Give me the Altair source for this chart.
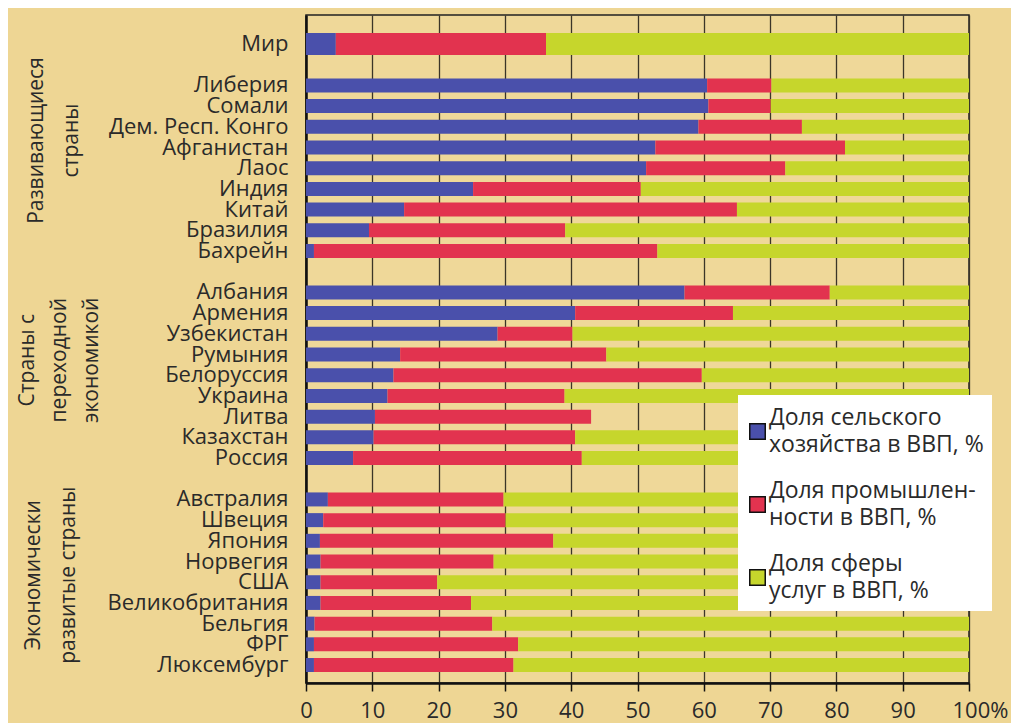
import altair as alt
import pandas as pd

# ---------------- data ----------------
world = ["Мир"]
developing = ["Либерия", "Сомали", "Дем. Респ. Конго", "Афганистан", "Лаос",
              "Индия", "Китай", "Бразилия", "Бахрейн"]
transition = ["Албания", "Армения", "Узбекистан", "Румыния", "Белоруссия",
              "Украина", "Литва", "Казахстан", "Россия"]
developed = ["Австралия", "Швеция", "Япония", "Норвегия", "США",
             "Великобритания", "Бельгия", "ФРГ", "Люксембург"]

countries = world + developing + transition + developed

agri = [4.5,
        60.5, 60.7, 59.2, 52.7, 51.3, 25.2, 14.8, 9.5, 1.2,
        57.1, 40.6, 28.9, 14.2, 13.2, 12.3, 10.4, 10.2, 7.1,
        3.3, 2.6, 2.1, 2.2, 2.2, 2.2, 1.3, 1.2, 1.2]
industry = [31.7,
            9.7, 9.4, 15.6, 28.6, 21.0, 25.3, 50.2, 29.6, 51.8,
            21.9, 23.8, 11.3, 31.1, 46.5, 26.7, 32.6, 30.4, 34.5,
            26.5, 27.5, 35.2, 26.1, 17.6, 22.7, 26.8, 30.8, 30.1]
services = [63.8,
            29.8, 29.9, 25.2, 18.7, 27.7, 49.5, 35.0, 60.9, 47.0,
            21.0, 35.6, 59.8, 54.7, 40.3, 61.0, None, 59.4, 58.4,
            70.2, 69.9, 62.7, 71.7, 80.2, 75.1, 71.9, 68.0, 68.7]

sectors = ["Доля сельского|хозяйства в ВВП, %",
           "Доля промышлен-|ности в ВВП, %",
           "Доля сферы|услуг в ВВП, %"]
colors = ["#4a50ab", "#e2334f", "#c6d62c"]

group_titles = ["Развивающиеся\nстраны",
                "Страны с\nпереходной\nэкономикой",
                "Экономически\nразвитые страны"]

x_ticks = [0, 10, 20, 30, 40, 50, 60, 70, 80, 90, 100]

# row order on the y axis, with blank spacer rows between groups
rows = world + [" "] + developing + ["  "] + transition + ["   "] + developed

# ---------------- long table ----------------
recs = []
for i, c in enumerate(countries):
    for k, series in enumerate([agri, industry, services]):
        v = series[i]
        if v is None:
            continue
        recs.append({"country": c, "sector": sectors[k], "ord": k, "value": v})
df = pd.DataFrame(recs)

FONT = "Open Sans"
TXT = "#2a2a2a"

y_enc = alt.Y(
    "country:N",
    scale=alt.Scale(domain=rows, paddingInner=0.3, paddingOuter=0.785, align=0.67),
    axis=alt.Axis(title=None, ticks=False, grid=False, domainColor="#111",
                  domainWidth=2.5, labelPadding=18, labelFontSize=22,
                  labelColor=TXT, labelFont=FONT, labelLimit=400),
)

bars = alt.Chart(df).mark_bar().encode(
    y=y_enc,
    x=alt.X("value:Q", stack="zero",
            scale=alt.Scale(domain=[0, 100], nice=False),
            axis=alt.Axis(title=None, values=x_ticks, grid=True,
                          gridColor="#3b3528", gridWidth=1.3,
                          domainColor="#111", domainWidth=2.5,
                          tickColor="#111", tickSize=8, tickWidth=1.5,
                          labelFontSize=22, labelColor=TXT, labelFont=FONT,
                          labelPadding=9, labelFlush=False,
                          labelExpr="datum.value == 100 ? '100%' : datum.label",
                          labelOffset={"condition": {"test": "datum.value == 100", "value": 11}, "value": 0})),
    color=alt.Color("sector:N",
                    scale=alt.Scale(domain=sectors, range=colors),
                    legend=alt.Legend(orient="none", legendX=432, legendY=380,
                                      title=" ", titleFontSize=1, titlePadding=16,
                                      fillColor="white", padding=8,
                                      symbolType="square", symbolSize=240,
                                      symbolStrokeColor="#111", symbolStrokeWidth=1.5,
                                      labelFontSize=23, labelFont=FONT, labelColor=TXT,
                                      labelLimit=400, rowPadding=22, labelOffset=0,
                                      labelBaseline="line-bottom",
                                      labelExpr="split(datum.label, '|')")),
    order=alt.Order("ord:Q"),
    size=alt.condition(alt.datum.country == "Мир", alt.value(22), alt.value(14)),
)

anchors = ["Афганистан", "Белоруссия", "США"]
xpos = [-269, -278, -272]
dxs = [7, 15, 7]
lhs = [35, 32, 35]
layers = [bars]
for t, a, xp, dx, lh in zip(group_titles, anchors, xpos, dxs, lhs):
    layers.append(
        alt.Chart(pd.DataFrame({"t": [t], "country": [a]}))
        .mark_text(angle=270, align="center", baseline="middle", lineBreak="\n",
                   fontSize=21, font=FONT, color=TXT, lineHeight=lh, dx=dx)
        .encode(y=y_enc, x=alt.value(xp), text="t:N")
    )

chart = (
    alt.layer(*layers)
    .properties(width=663, height=668,
                autosize=alt.AutoSizeParams(type="none"),
                padding={"left": 298, "top": 7, "right": 42, "bottom": 40},
                background="#eed694")
    .configure(style={"guide-label": {"lineHeight": 27}})
    .configure_view(stroke="#222", strokeWidth=1.5, fill="#efd899")
)

chart.save("out.html", embed_options={"renderer": "svg", "actions": False})
